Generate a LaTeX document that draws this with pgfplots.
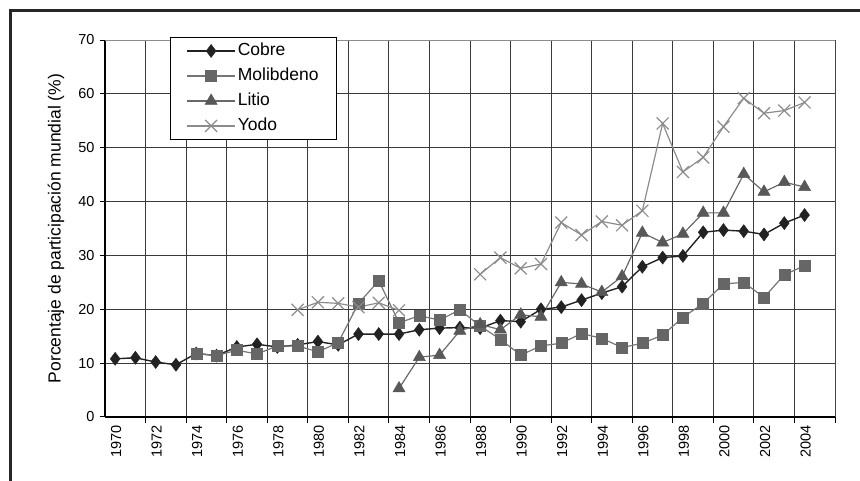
\documentclass[border=0pt]{standalone}
\usepackage{pgfplots}
\pgfplotsset{compat=1.18}
\usepackage{fontspec}
\setmainfont{Liberation Sans}

\definecolor{cobre}{HTML}{222222}
\definecolor{molib}{HTML}{666666}
\definecolor{litio}{HTML}{585858}
\definecolor{yodo}{HTML}{8C8C8C}
\definecolor{gridc}{HTML}{3A3A3A}

\begin{document}
\begin{tikzpicture}[x=1pt,y=1pt]
\useasboundingbox (0,0) rectangle (860,481);
\draw[line width=3pt, black!85] (10.5,-2) -- (10.5,470.5) -- (862,470.5);
\begin{axis}[
    at={(105pt,64pt)}, anchor=south west,
    width=730pt, height=377pt, scale only axis,
    xmin=1969.5, xmax=2005.5,
    ymin=0, ymax=70,
    axis x line*=bottom, axis y line*=left,
    axis line style={black, line width=1.1pt},
    xtick={1970,1972,1974,1976,1978,1980,1982,1984,1986,1988,1990,1992,1994,1996,1998,2000,2002,2004},
    xticklabels={1970,1972,1974,1976,1978,1980,1982,1984,1986,1988,1990,1992,1994,1996,1998,2000,2002,2004},
    minor xtick={1971.5,1973.5,...,2005.5},
    ytick={0,10,20,30,40,50,60,70},
    yticklabels={0,10,20,30,40,50,60,70},
    tick align=outside,
    major tick length=5pt,
    minor tick length=6pt,
    major x tick style={draw=none},
    minor x tick style={black, line width=1pt},
    major y tick style={black, line width=1pt},
    xmajorgrids=false, xminorgrids=true, ymajorgrids=true,
    grid style={gridc, line width=0.9pt},
    minor grid style={gridc, line width=0.9pt},
    every tick label/.append style={font=\fontsize{14.5}{17}\selectfont},
    xticklabel style={rotate=90, anchor=east, yshift=-1pt},
    yticklabel style={xshift=-2pt},
    ylabel={Porcentaje de participación mundial (\%)},
    every axis y label/.style={at={(axis description cs:-0.067,0.5)}, rotate=90, anchor=center, font=\fontsize{17.5}{20}\selectfont},
    unbounded coords=jump,
    legend style={at={(axis description cs:0.089,1.008)}, anchor=north west,
        draw=black, line width=0.9pt, fill=white,
        font=\fontsize{17.5}{20}\selectfont,
        inner xsep=16pt, inner ysep=3pt, row sep=4pt,
        nodes={text height=13pt, text depth=4pt, inner sep=2pt}},
    legend cell align=left,
    legend image code/.code={\path (0pt,0pt) -- (48pt,0pt);
        \draw[mark repeat=2,mark phase=2] plot coordinates {(4pt,0pt) (24pt,0pt) (44pt,0pt)};},
]

\addplot[color=cobre, line width=1.4pt, mark=diamond*, mark size=6.5pt, mark options={solid, fill=cobre, draw=cobre, line width=0.5pt}]
    coordinates {(1970,10.8)(1971,11.0)(1972,10.2)(1973,9.7)(1974,11.8)(1975,11.4)(1976,13.0)(1977,13.5)(1978,13.0)(1979,13.4)(1980,14.0)(1981,13.4)(1982,15.4)(1983,15.4)(1984,15.4)(1985,16.2)(1986,16.5)(1987,16.6)(1988,16.5)(1989,17.9)(1990,17.7)(1991,20.0)(1992,20.4)(1993,21.7)(1994,23.0)(1995,24.2)(1996,27.9)(1997,29.6)(1998,29.9)(1999,34.3)(2000,34.7)(2001,34.5)(2002,33.9)(2003,36.0)(2004,37.5)};
\addlegendentry{Cobre}

\addplot[color=molib!90!white, line width=1.2pt, mark=square*, mark size=5.5pt, mark options={solid, fill=molib, draw=molib, line width=0.5pt}]
    coordinates {(1974,11.8)(1975,11.4)(1976,12.4)(1977,11.7)(1978,13.2)(1979,13.2)(1980,12.1)(1981,13.8)(1982,21.1)(1983,25.3)(1984,17.5)(1985,18.8)(1986,18.0)(1987,19.9)(1988,16.9)(1989,14.4)(1990,11.5)(1991,13.2)(1992,13.7)(1993,15.5)(1994,14.6)(1995,12.9)(1996,13.7)(1997,15.2)(1998,18.5)(1999,21.1)(2000,24.7)(2001,25.0)(2002,22.2)(2003,26.4)(2004,28.1)};
\addlegendentry{Molibdeno}

\addplot[color=litio!90!white, line width=1.2pt, mark=triangle*, mark size=7pt, mark options={solid, fill=litio, draw=litio, line width=0.5pt}]
    coordinates {(1984,5.3)(1985,11.1)(1986,11.5)(1987,16.0)(1988,17.2)(1989,16.2)(1990,19.0)(1991,18.6)(1992,25.0)(1993,24.7)(1994,23.2)(1995,26.1)(1996,34.2)(1997,32.4)(1998,34.0)(1999,37.9)(2000,37.9)(2001,45.1)(2002,41.8)(2003,43.6)(2004,42.7)};
\addlegendentry{Litio}

\addplot[color=yodo, line width=1.2pt, mark=x, mark size=8.5pt, mark options={solid, draw=yodo, line width=1.2pt}]
    coordinates {(1979,19.9)(1980,21.3)(1981,21.1)(1982,20.4)(1983,21.2)(1984,19.8)(1985,nan)(1988,26.5)(1989,29.6)(1990,27.6)(1991,28.4)(1992,36.1)(1993,33.8)(1994,36.3)(1995,35.6)(1996,38.3)(1997,54.5)(1998,45.5)(1999,48.2)(2000,53.9)(2001,59.2)(2002,56.4)(2003,56.9)(2004,58.4)};
\addlegendentry{Yodo}

\draw[color=black!45, line width=1pt] (rel axis cs:0,1) -- (rel axis cs:1,1) -- (rel axis cs:1,0);
\end{axis}
\end{tikzpicture}
\end{document}
